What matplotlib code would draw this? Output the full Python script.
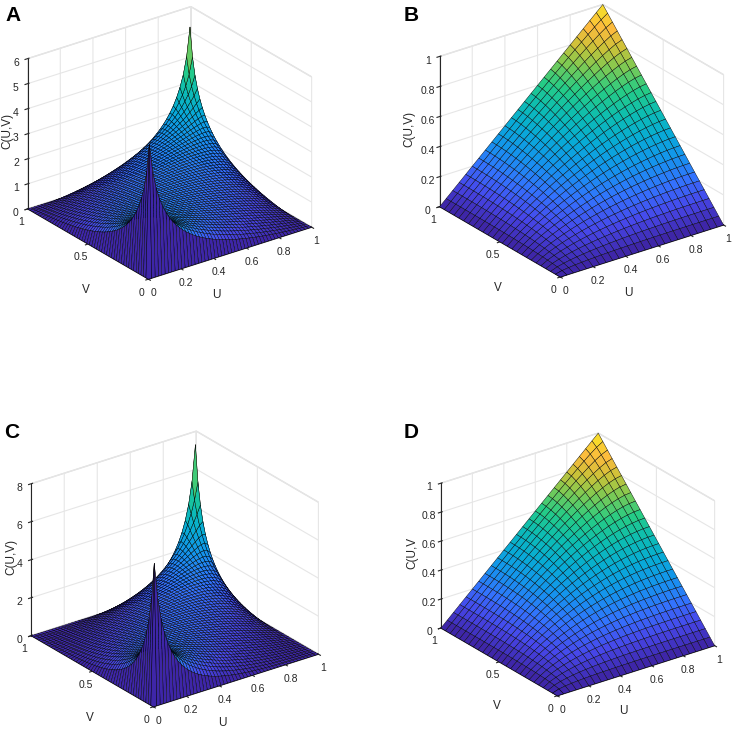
import math
from statistics import NormalDist
import numpy as np
import matplotlib
matplotlib.use('Agg')
import matplotlib.pyplot as plt
from matplotlib.colors import LinearSegmentedColormap

# Gaussian copula parameters
rho_top = 0.55
rho_bottom = 0.68
n_pdf = 50      # grid points per side, density panels
n_cdf = 26      # grid points per side, cdf panels
panel_letters = ['A', 'B', 'C', 'D']
zlims = [6, 1, 8, 1]
zticks = [[0, 1, 2, 3, 4, 5, 6], [0, 0.2, 0.4, 0.6, 0.8, 1],
          [0, 2, 4, 6, 8], [0, 0.2, 0.4, 0.6, 0.8, 1]]
zlabels = ['C(U,V)', 'C(U,V)', 'C(U,V)', 'C(U,V']
u_ticks = [0, 0.2, 0.4, 0.6, 0.8, 1]
v_ticks = [0, 0.5, 1]

# parula-like colormap
parula_pos = [0.0, 0.1, 0.2, 0.3, 0.4, 0.5, 0.6, 0.7, 0.78, 0.86, 0.93, 1.0]
parula_rgb = [(0.2422, 0.1504, 0.6603), (0.2780, 0.2800, 0.9200),
              (0.2000, 0.4500, 0.9950), (0.0800, 0.5800, 0.9300),
              (0.0300, 0.6700, 0.8400), (0.0500, 0.7400, 0.7000),
              (0.1500, 0.8000, 0.5200), (0.5000, 0.7900, 0.3200),
              (0.8000, 0.7600, 0.2200), (0.9900, 0.7300, 0.2400),
              (0.9700, 0.8400, 0.1800), (0.9769, 0.9839, 0.0805)]
parula = LinearSegmentedColormap.from_list('parula', list(zip(parula_pos, parula_rgb)))

nd = NormalDist()


def ppf(t):
    if t <= 0:
        return -np.inf
    if t >= 1:
        return np.inf
    return nd.inv_cdf(t)


def gauss_pdf(rho, n):
    u = np.linspace(0, 1, n)
    x = np.array([ppf(t) for t in u])
    X, Y = np.meshgrid(x, x)
    with np.errstate(invalid='ignore', over='ignore'):
        c = np.exp(-(rho**2 * (X**2 + Y**2) - 2 * rho * X * Y) / (2 * (1 - rho**2)))
    c = c / math.sqrt(1 - rho**2)
    c[~np.isfinite(c)] = 0
    c[0, :] = 0; c[-1, :] = 0; c[:, 0] = 0; c[:, -1] = 0
    return u, c


def gauss_cdf(rho, n):
    u = np.linspace(0, 1, n)
    sub = 80
    m = (n - 1) * sub
    s = (np.arange(m) + 0.5) / m
    xs = np.array([nd.inv_cdf(t) for t in s])
    yv = np.array([ppf(t) for t in u])
    arg = (yv[:, None] - rho * xs[None, :]) / math.sqrt(1 - rho**2)
    erf = np.vectorize(math.erf)
    phi = 0.5 * (1 + erf(arg / math.sqrt(2)))
    c = np.zeros((n, n))
    cum = np.cumsum(phi, axis=1) / m
    c[:, 1:] = cum[:, sub - 1::sub]
    return u, c


surfaces = [gauss_pdf(rho_top, n_pdf), gauss_cdf(rho_top, n_cdf),
            gauss_pdf(rho_bottom, n_pdf), gauss_cdf(rho_bottom, n_cdf)]

plt.rcParams['font.family'] = ['Liberation Sans', 'DejaVu Sans']
fig = plt.figure(figsize=(7.33, 7.29), dpi=100)

rects = [[-0.019, 0.577, 0.489, 0.442], [0.543, 0.58, 0.489, 0.442],
         [-0.015, -0.01, 0.495, 0.447], [0.545, 0.007, 0.475, 0.426]]
letter_pos = [(0.007, 0.979), (0.55, 0.979), (0.005, 0.407), (0.55, 0.407)]
zlabel_uv = [(-0.062, 1.082), (-0.1, 1.112), (-0.062, 1.082), (-0.1, 1.112)]

for k in range(4):
    ax = fig.add_axes(rects[k], projection='3d')
    ax.set_proj_type('ortho')
    ax.computed_zorder = False
    u, Z = surfaces[k]
    U, V = np.meshgrid(u, u)
    cols = parula(Z / Z.max())
    kw = dict(edgecolor='black', linewidth=0.3, rstride=1, cstride=1,
              shade=False, antialiased=True)
    # interior first, then the two front strips so they hide what lies behind them
    ax.plot_surface(U[1:, 1:], V[1:, 1:], Z[1:, 1:], facecolors=cols[1:, 1:], **kw)
    ax.plot_surface(U[:, :2], V[:, :2], Z[:, :2], facecolors=cols[:, :2], **kw)
    ax.plot_surface(U[:2, :], V[:2, :], Z[:2, :], facecolors=cols[:2, :], **kw)
    ax.view_init(elev=25.5, azim=-126.5)
    ax.set_box_aspect((1, 1, 0.82))
    ax.set_xlim(0, 1); ax.set_ylim(0, 1); ax.set_zlim(0, zlims[k])
    ax.set_xticks(u_ticks); ax.set_yticks(v_ticks); ax.set_zticks(zticks[k])
    ax.set_xticklabels(['0', '0.2', '0.4', '0.6', '0.8', '1'])
    ax.set_yticklabels(['0', '0.5', '1'])
    ax.set_zticklabels([('%g' % t) for t in zticks[k]])
    ax.tick_params(labelsize=7.5, pad=-3, colors='#262626')
    for axis in (ax.xaxis, ax.yaxis, ax.zaxis):
        axis.set_pane_color((1, 1, 1, 1))
        axis.pane.set_edgecolor('#dddddd')
        axis._axinfo['grid']['color'] = '#e6e6e6'
        axis._axinfo['grid']['linewidth'] = 0.8
        axis.line.set_color('#262626')
        axis.label.set_visible(False)
        axis.offsetText.set_visible(False)
    # axis titles placed in data space, MATLAB-like
    ax.text(0.16, -0.35, 0, 'U', fontsize=8.5, ha='center', va='center', color='#262626')
    ax.text(-0.32, 0.085, 0, 'V', fontsize=8.5, ha='center', va='center', color='#262626')
    ax.text(zlabel_uv[k][0], zlabel_uv[k][1], zlims[k] * 0.5, zlabels[k], zdir='z',
            fontsize=8.5, ha='center', va='center', color='#262626')
    fig.text(letter_pos[k][0], letter_pos[k][1], panel_letters[k],
             fontsize=15, fontweight='bold', va='center')

fig.savefig('out.png', dpi=100)
